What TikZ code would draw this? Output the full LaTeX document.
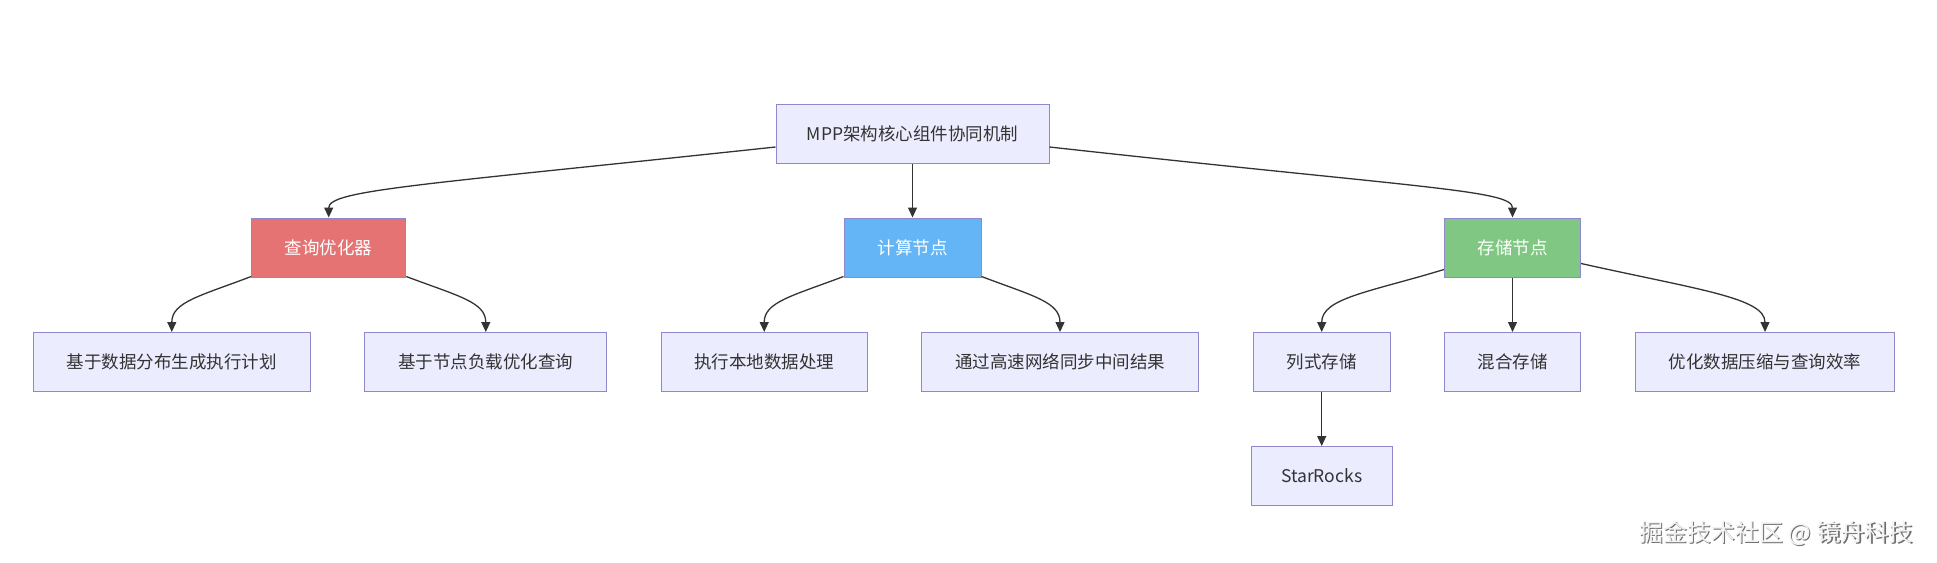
\documentclass[tikz,border=0pt]{standalone}
\usepackage{fontspec}
\setmainfont{Noto Sans CJK SC}
\usetikzlibrary{arrows.meta,calc}
\definecolor{boxfill}{HTML}{ECECFF}
\definecolor{boxline}{HTML}{9088CC}
\definecolor{redfill}{HTML}{E57373}
\definecolor{bluefill}{HTML}{64B5F6}
\definecolor{greenfill}{HTML}{81C784}
\definecolor{edgecol}{HTML}{333333}
\definecolor{wmfront}{HTML}{F2F2F2}
\definecolor{wmback}{HTML}{6E6E6E}
\begin{document}
\begin{tikzpicture}[x=1pt,y=-1pt,
  box/.style={draw=boxline,fill=boxfill,line width=1pt,inner sep=0pt,minimum height=59pt,text=edgecol,font=\fontsize{17.5}{20}\selectfont},
  colbox/.style={box,text=white},
  conn/.style={draw=edgecol,line width=1.3pt,-{Triangle[length=10pt,width=9pt]}},
  wm/.style={font=\fontsize{24}{28}\selectfont,inner sep=0pt}]
\path[use as bounding box] (0,0) rectangle (1937,562);
% nodes
\node[box,minimum width=273pt] (m) at (912.5,133.5) {MPP架构核心组件协同机制};
\node[colbox,fill=redfill,minimum width=154pt] (q) at (328.7,247.5) {查询优化器};
\node[colbox,fill=bluefill,minimum width=137pt] (c) at (912.5,247.5) {计算节点};
\node[colbox,fill=greenfill,minimum width=136pt] (s) at (1512.5,247.5) {存储节点};
\node[box,minimum width=277pt] (a1) at (171.8,362) {基于数据分布生成执行计划};
\node[box,minimum width=242pt] (a2) at (485.8,362) {基于节点负载优化查询};
\node[box,minimum width=206pt] (b1) at (764.2,362) {执行本地数据处理};
\node[box,minimum width=277pt] (b2) at (1060,362) {通过高速网络同步中间结果};
\node[box,minimum width=137pt] (s1) at (1321.7,362) {列式存储};
\node[box,minimum width=136pt] (s2) at (1512.5,362) {混合存储};
\node[box,minimum width=259pt] (s3) at (1765,362) {优化数据压缩与查询效率};
\node[box,minimum width=141pt] (sr) at (1321.7,476) {StarRocks};
% watermark
\node[wm,text=wmback] (wmshadow) at (1777.3,534.3) {掘金技术社区 @ 镜舟科技};
\node[wm,text=wmfront] (wmtext) at (1776,533) {掘金技术社区 @ 镜舟科技};
% connectors
\draw[conn] ($(m.west)+(0,13.5)$) .. controls (420,185) and (328.7,190) .. (q.north);
\draw[conn] (m.south) -- (c.north);
\draw[conn] ($(m.east)+(0,13.5)$) .. controls (1420,188) and (1512.5,190) .. (s.north);
\draw[conn] ($(q.south west)+(0,-1)$) .. controls (200,296) and (171.8,302) .. (a1.north);
\draw[conn] ($(q.south east)+(0,-1)$) .. controls (458,296) and (485.8,302) .. (a2.north);
\draw[conn] ($(c.south west)+(0,-1)$) .. controls (792,296) and (764.2,302) .. (b1.north);
\draw[conn] ($(c.south east)+(0,-1)$) .. controls (1033,296) and (1060,302) .. (b2.north);
\draw[conn] ($(s.south west)+(0,-8)$) .. controls (1370,292) and (1321.7,298) .. (s1.north);
\draw[conn] (s.south) -- (s2.north);
\draw[conn] ($(s.south east)+(0,-14)$) .. controls (1700,290) and (1765,298) .. (s3.north);
\draw[conn] (s1.south) -- (sr.north);
\end{tikzpicture}
\end{document}
